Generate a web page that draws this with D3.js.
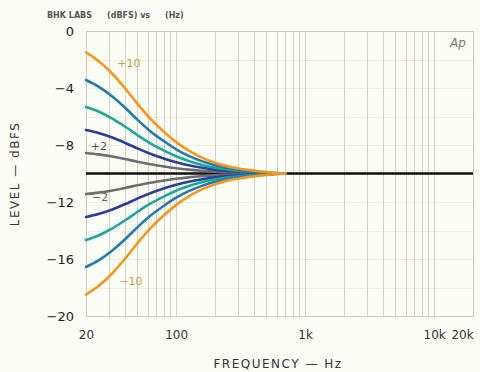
<!DOCTYPE html>
<html>
<head>
<meta charset="utf-8">
<script src="https://cdn.jsdelivr.net/npm/d3@7"></script>
<style>
  html, body { margin: 0; padding: 0; background: #fdfdf8; }
  svg { display: block; }
  text { font-family: "DejaVu Sans", "Liberation Sans", sans-serif; }
</style>
</head>
<body>
<svg id="chart" width="480" height="372"></svg>
<script>
// ---- data ----
const freqs = [20, 25, 32, 40, 50, 63, 80, 100, 125, 160, 200, 250, 315, 400, 500, 600, 700];
const levelP10 = [-1.5, -2.1, -3.0, -4.0, -5.1, -6.15, -7.05, -7.8, -8.4, -8.9, -9.25, -9.5, -9.67, -9.8, -9.9, -9.96, -10];
const levelP8  = [-3.44, -3.9, -4.6, -5.37, -6.22, -7.03, -7.72, -8.3, -8.76, -9.15, -9.42, -9.61, -9.75, -9.85, -9.92, -9.97, -10];
const levelP6  = [-5.33, -5.65, -6.15, -6.7, -7.3, -7.88, -8.38, -8.79, -9.12, -9.4, -9.59, -9.72, -9.82, -9.89, -9.94, -9.98, -10];
const levelP4  = [-6.95, -7.16, -7.48, -7.84, -8.24, -8.61, -8.94, -9.21, -9.42, -9.6, -9.73, -9.82, -9.88, -9.93, -9.96, -9.99, -10];
const levelP2  = [-8.56, -8.66, -8.81, -8.98, -9.17, -9.35, -9.5, -9.63, -9.73, -9.81, -9.87, -9.91, -9.94, -9.97, -9.98, -9.99, -10];
const levelM2  = [-11.44, -11.34, -11.19, -11.02, -10.83, -10.65, -10.5, -10.37, -10.27, -10.19, -10.13, -10.09, -10.06, -10.03, -10.02, -10.01, -10];
const levelM4  = [-13.05, -12.84, -12.52, -12.16, -11.76, -11.39, -11.06, -10.79, -10.58, -10.4, -10.27, -10.18, -10.12, -10.07, -10.04, -10.01, -10];
const levelM6  = [-14.67, -14.35, -13.85, -13.3, -12.7, -12.12, -11.62, -11.21, -10.88, -10.6, -10.41, -10.28, -10.18, -10.11, -10.06, -10.02, -10];
const levelM8  = [-16.56, -16.1, -15.4, -14.63, -13.78, -12.97, -12.28, -11.7, -11.24, -10.85, -10.58, -10.39, -10.25, -10.15, -10.08, -10.03, -10];
const levelM10 = [-18.5, -17.9, -17.0, -16.0, -14.9, -13.85, -12.95, -12.2, -11.6, -11.1, -10.75, -10.5, -10.33, -10.2, -10.1, -10.04, -10];
const flatFreqs = [20, 20000];
const flatLevel = [-10, -10];
const xTickValues = [20, 100, 1000, 10000, 20000];
const xTickLabels = ["20", "100", "1k", "10k", "20k"];
const yTickValues = [0, -4, -8, -12, -16, -20];
const yTickLabels = ["0", "\u22124", "\u22128", "\u221212", "\u221216", "\u221220"];

const seriesColors = {
  "+10": "#f7941d", "-10": "#f7941d",
  "+8": "#1f7bb0", "-8": "#1f7bb0",
  "+6": "#1aa89c", "-6": "#1aa89c",
  "+4": "#2a3c9e", "-4": "#2a3c9e",
  "+2": "#6e6e6e", "-2": "#6e6e6e"
};

// ---- layout ----
const svg = d3.select("#chart");
const pL = 86, pR = 473, pT = 31, pB = 316;
const x = d3.scaleLog().domain([20, 20000]).range([pL, pR]);
const y = d3.scaleLinear().domain([-20, 0]).range([pB, pT]);

// grid
const gridFreqs = [];
[10, 100, 1000, 10000].forEach(dec => {
  for (let m = 1; m <= 9; m++) {
    const f = dec * m;
    if (f >= 20 && f <= 20000) gridFreqs.push(f);
  }
});
gridFreqs.push(20000);
const g = svg.append("g");
g.selectAll(".hgrid").data(d3.range(-20, 1, 2)).join("line")
  .attr("x1", pL).attr("x2", pR)
  .attr("y1", d => Math.round(y(d)) + 0.5).attr("y2", d => Math.round(y(d)) + 0.5)
  .attr("stroke", "#f0ede3").attr("stroke-width", 1);
g.selectAll(".vgrid").data(gridFreqs).join("line")
  .attr("x1", d => Math.round(x(d)) + 0.5).attr("x2", d => Math.round(x(d)) + 0.5)
  .attr("y1", pT).attr("y2", pB)
  .attr("stroke", "#d6d2c4").attr("stroke-width", 1);
g.append("rect").attr("x", pL + 0.5).attr("y", pT + 0.5)
  .attr("width", pR - pL).attr("height", pB - pT)
  .attr("fill", "none").attr("stroke", "#cfcbbd").attr("stroke-width", 1);

// lines
const line = d3.line().x(d => x(d[0])).y(d => y(d[1])).curve(d3.curveMonotoneX);
const zip = (fs, vs) => fs.map((f, i) => [f, vs[i]]);

svg.append("path").datum(zip(flatFreqs, flatLevel))
  .attr("d", line).attr("fill", "none").attr("stroke", "#111").attr("stroke-width", 2.6);

const curves = [
  ["+2", levelP2], ["-2", levelM2],
  ["+4", levelP4], ["-4", levelM4],
  ["+6", levelP6], ["-6", levelM6],
  ["+8", levelP8], ["-8", levelM8],
  ["+10", levelP10], ["-10", levelM10]
];
curves.forEach(([name, vals]) => {
  svg.append("path").datum(zip(freqs, vals))
    .attr("d", line).attr("fill", "none")
    .attr("stroke", seriesColors[name]).attr("stroke-width", 2.6)
    .attr("stroke-linecap", "round");
});

// curve labels
const curveLabel = (txt, fx, lv, col) =>
  svg.append("text").attr("x", x(fx)).attr("y", y(lv)).text(txt)
    .attr("font-size", 11).attr("fill", col).attr("text-anchor", "middle")
    .attr("dominant-baseline", "central");
curveLabel("+10", 43, -2.3, "#d19a4a");
curveLabel("+2", 25.2, -8.14, "#555");
curveLabel("\u22122", 25.7, -11.65, "#666");
curveLabel("\u221210", 44.6, -17.55, "#d19a4a");

// axes
const xAxis = svg.append("g").attr("transform", `translate(0,${pB})`)
  .call(d3.axisBottom(x).tickValues(xTickValues)
    .tickFormat((d, i) => xTickLabels[i]).tickSize(0).tickPadding(14));
xAxis.select(".domain").remove();
xAxis.selectAll("text").attr("font-size", 12).attr("fill", "#333")
  .attr("font-family", "DejaVu Sans, sans-serif")
  .attr("dx", (d, i) => i === xTickValues.length - 1 ? -11 : 0);

const yAxis = svg.append("g").attr("transform", `translate(${pL},0)`)
  .call(d3.axisLeft(y).tickValues(yTickValues)
    .tickFormat((d, i) => yTickLabels[i]).tickSize(0).tickPadding(12));
yAxis.select(".domain").remove();
yAxis.selectAll("text").attr("font-size", 13).attr("fill", "#222")
  .attr("font-family", "DejaVu Sans, sans-serif");

// titles
svg.append("text").attr("x", 278).attr("y", 368).attr("text-anchor", "middle")
  .attr("font-size", 12).attr("letter-spacing", 1.5).attr("fill", "#333")
  .text("FREQUENCY \u2014 Hz");
svg.append("text").attr("transform", "translate(19,174) rotate(-90)")
  .attr("text-anchor", "middle").attr("font-size", 12).attr("letter-spacing", 1.5)
  .attr("fill", "#333").text("LEVEL \u2014 dBFS");
svg.append("text").attr("x", 47).attr("y", 18).attr("font-size", 8)
  .attr("font-weight", "bold").attr("fill", "#555").text("BHK LABS");
svg.append("text").attr("x", 107).attr("y", 18).attr("font-size", 8)
  .attr("font-weight", "bold").attr("fill", "#555").text("(dBFS) vs");
svg.append("text").attr("x", 165).attr("y", 18).attr("font-size", 8)
  .attr("font-weight", "bold").attr("fill", "#555").text("(Hz)");
svg.append("text").attr("x", 458).attr("y", 47).attr("text-anchor", "middle")
  .attr("font-size", 12).attr("font-style", "italic").attr("fill", "#777").text("Ap");
</script>
</body>
</html>
